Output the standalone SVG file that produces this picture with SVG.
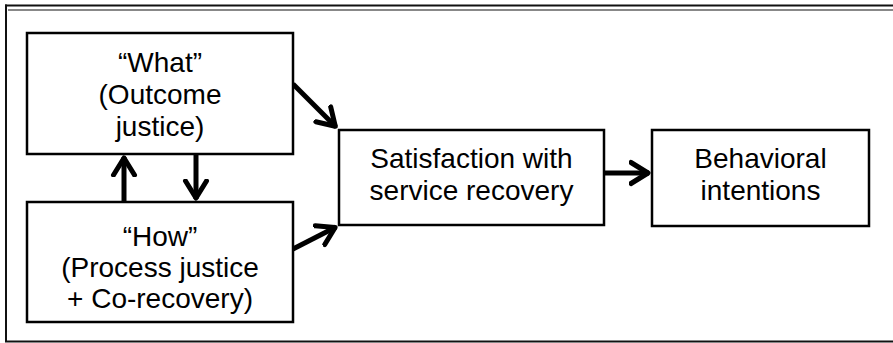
<svg xmlns="http://www.w3.org/2000/svg" width="893" height="343" viewBox="0 0 893 343">
<style>
.box{fill:#fff;stroke:#000;stroke-width:2.5}
.lbl{font-family:"Liberation Sans",Arial,sans-serif;font-size:28px;fill:#000;text-anchor:middle}
.con{stroke:#000;stroke-width:5;fill:none}
</style>
<defs>
<marker id="ah" markerUnits="userSpaceOnUse" markerWidth="40" markerHeight="40" viewBox="-20 -20 40 40" refX="0" refY="0" orient="auto">
<path d="M-18,-10.5 L-1,0 L-18,10.5" fill="none" stroke="#000" stroke-width="5" stroke-linecap="round" stroke-linejoin="round"/>
</marker>
</defs>
<rect width="893" height="343" fill="#fff"/>
<g id="frame">
<line x1="5" y1="5.5" x2="893" y2="5.5" stroke="#111" stroke-width="2"/>
<line x1="8" y1="10" x2="893" y2="10" stroke="#888" stroke-width="2"/>
<line x1="6" y1="4.5" x2="6" y2="342" stroke="#111" stroke-width="2"/>
<line x1="5" y1="341.5" x2="893" y2="341.5" stroke="#111" stroke-width="2"/>
</g>
<g id="connectors">
<line class="con" x1="124" y1="202" x2="124" y2="157" marker-end="url(#ah)"/>
<line class="con" x1="196" y1="154" x2="196" y2="199" marker-end="url(#ah)"/>
<line class="con" x1="293" y1="84" x2="336" y2="127" marker-end="url(#ah)"/>
<line class="con" x1="293" y1="249" x2="336" y2="227" marker-end="url(#ah)"/>
<line class="con" x1="604" y1="173" x2="649" y2="173" marker-end="url(#ah)"/>
</g>
<g id="what">
<rect class="box" x="27" y="33" width="266" height="121"/>
<text class="lbl" x="160" y="72">“What”</text>
<text class="lbl" x="160" y="104">(Outcome</text>
<text class="lbl" x="160" y="136">justice)</text>
</g>
<g id="how">
<rect class="box" x="27" y="202" width="266" height="120"/>
<text class="lbl" x="160" y="246">“How”</text>
<text class="lbl" x="160" y="277">(Process justice</text>
<text class="lbl" x="160" y="308">+ Co-recovery)</text>
</g>
<g id="satisfaction">
<rect class="box" x="339" y="130" width="265" height="95"/>
<text class="lbl" x="471.5" y="168">Satisfaction with</text>
<text class="lbl" x="471.5" y="200">service recovery</text>
</g>
<g id="behavioral">
<rect class="box" x="652" y="130" width="217" height="96"/>
<text class="lbl" x="760.5" y="168">Behavioral</text>
<text class="lbl" x="760.5" y="200">intentions</text>
</g>
</svg>
